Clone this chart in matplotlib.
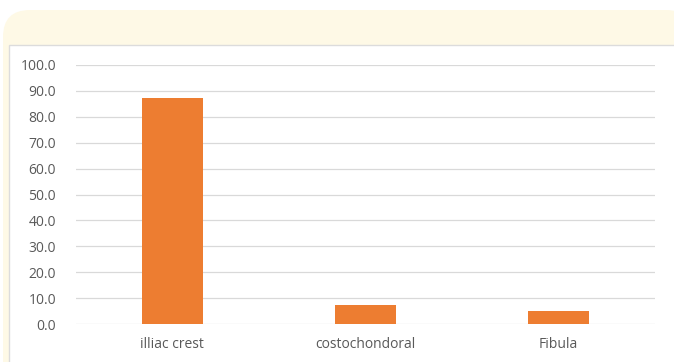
import matplotlib.pyplot as plt
from matplotlib.patches import FancyBboxPatch, Rectangle

categories = ['illiac crest', 'costochondoral', 'Fibula']
values = [87.2, 7.5, 5.0]
yticks = [0, 10, 20, 30, 40, 50, 60, 70, 80, 90, 100]

W, H = 674, 362
fig = plt.figure(figsize=(W / 100, H / 100), dpi=100)
fig.patch.set_facecolor('white')

# cream rounded header card behind the chart panel
card = FancyBboxPatch((3 / W, -0.1), 690 / W, (H - 10) / H + 0.1,
                      boxstyle='round,pad=0,rounding_size=0.04',
                      transform=fig.transFigure, facecolor='#FEF9E6',
                      edgecolor='none', mutation_aspect=W / H, zorder=0)
fig.patches.append(card)
panel = Rectangle((9 / W, -0.1), 1, (H - 45) / H + 0.1,
                  transform=fig.transFigure, facecolor='white',
                  edgecolor='#DCDCDC', linewidth=1.0, zorder=0.5)
fig.patches.append(panel)

ax = fig.add_axes([75.5 / W, (H - 324) / H, (655 - 75.5) / W, (324 - 65) / H])
ax.set_zorder(5)
ax.set_facecolor('none')
x = range(len(categories))
ax.bar(x, values, width=0.315, color='#ED7D31', zorder=3)

ax.set_xlim(-0.5, len(categories) - 0.5)
ax.set_ylim(0, 100)
ax.set_yticks(yticks)
ax.set_yticklabels([f'{v:.1f}' for v in yticks])
ax.set_xticks(list(x))
ax.set_xticklabels(categories)
ax.grid(axis='y', color='#D9D9D9', linewidth=0.9, zorder=0)
for s in ax.spines.values():
    s.set_visible(False)
ax.tick_params(axis='both', length=0, labelsize=10, labelcolor='#595959')
ax.tick_params(axis='y', pad=14)
ax.tick_params(axis='x', pad=9)
for lbl in ax.get_xticklabels() + ax.get_yticklabels():
    lbl.set_fontfamily('Open Sans')

fig.savefig('out.png', dpi=100)
